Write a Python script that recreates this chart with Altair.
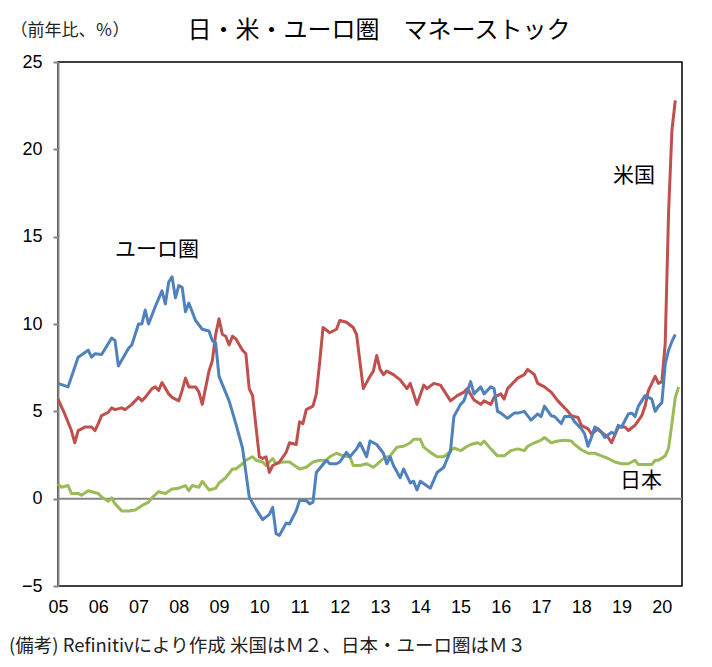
import altair as alt
import pandas as pd

# ---- data (year-on-year %) ----
euro_dates = ["2005-01","2005-04","2005-07","2005-10","2005-11","2005-12","2006-02","2006-05","2006-06","2006-07",
              "2006-10","2006-11","2007-01","2007-02","2007-03","2007-04","2007-06","2007-08","2007-09","2007-10",
              "2007-11","2007-12","2008-01","2008-02","2008-03","2008-04","2008-06","2008-08","2008-10","2008-11",
              "2008-12","2009-01","2009-04","2009-06","2009-08","2009-10","2009-12","2010-02","2010-04","2010-05",
              "2010-06","2010-07","2010-09","2010-10","2010-12","2011-01","2011-03","2011-04","2011-05","2011-06",
              "2011-09","2011-10","2011-12","2012-01","2012-03","2012-04","2012-06","2012-07","2012-09","2012-10",
              "2012-12","2013-02","2013-03","2013-04","2013-05","2013-07","2013-08","2013-10","2013-11","2013-12",
              "2014-01","2014-04","2014-06","2014-08","2014-10","2014-11","2015-01","2015-02","2015-04","2015-05",
              "2015-07","2015-08","2015-10","2015-11","2015-12","2016-01","2016-03","2016-05","2016-06","2016-08",
              "2016-10","2016-12","2017-01","2017-02","2017-04","2017-05","2017-07","2017-08","2017-10","2017-11",
              "2018-01","2018-02","2018-03","2018-04","2018-05","2018-07","2018-08","2018-10","2018-11","2018-12",
              "2019-01","2019-03","2019-04","2019-05","2019-06","2019-08","2019-09","2019-10","2019-11","2019-12",
              "2020-01","2020-02","2020-03","2020-04","2020-05"]
euro_values = [6.6, 6.4, 8.1, 8.5, 8.1, 8.3, 8.25, 9.2, 9.05, 7.6,
               8.6, 8.8, 10.0, 10.0, 10.8, 10.0, 11.0, 11.9, 11.15, 12.4,
               12.7, 11.5, 12.2, 12.1, 10.7, 11.2, 10.2, 9.7, 9.6, 9.05,
               8.9, 7.0, 5.6, 4.3, 2.9, 0.1, -0.6, -1.2, -0.9, -0.5,
               -2.0, -2.1, -1.4, -1.45, -0.7, -0.1, -0.1, -0.3, -0.2, 1.5,
               2.2, 2.0, 2.0, 2.1, 2.65, 2.4, 2.85, 3.2, 2.4, 3.3,
               3.1, 2.6, 2.0, 2.4, 1.9, 1.2, 1.7, 0.9, 1.0, 0.5,
               1.0, 0.6, 1.5, 1.8, 2.75, 4.7, 5.4, 5.6, 6.7, 6.0,
               6.4, 6.0, 6.4, 6.3, 5.0, 4.9, 4.6, 4.9, 4.9, 5.0,
               4.5, 4.85, 4.7, 5.3, 4.75, 4.7, 4.3, 4.7, 4.7, 4.4,
               4.0, 3.7, 3.0, 3.5, 4.1, 3.8, 3.5, 3.8, 3.7, 4.2,
               4.1, 4.85, 4.9, 4.7, 5.3, 5.9, 5.8, 5.7, 5.0, 5.3,
               5.5, 7.7, 8.5, 9.0, 9.4]

us_dates = ["2005-01","2005-03","2005-05","2005-06","2005-07","2005-09","2005-11","2005-12","2006-01","2006-02",
            "2006-04","2006-05","2006-06","2006-08","2006-09","2006-11","2007-01","2007-02","2007-03","2007-05",
            "2007-06","2007-07","2007-08","2007-10","2007-11","2008-01","2008-02","2008-03","2008-04","2008-06",
            "2008-07","2008-08","2008-10","2008-11","2008-12","2009-01","2009-02","2009-03","2009-04","2009-05",
            "2009-06","2009-08","2009-09","2009-10","2009-11","2010-01","2010-02","2010-03","2010-04","2010-05",
            "2010-06","2010-07","2010-09","2010-10","2010-12","2011-01","2011-02","2011-03","2011-05","2011-06",
            "2011-07","2011-08","2011-10","2011-12","2012-01","2012-03","2012-05","2012-06","2012-08","2012-10",
            "2012-11","2012-12","2013-01","2013-02","2013-03","2013-05","2013-07","2013-09","2013-10","2013-12",
            "2014-02","2014-03","2014-05","2014-07","2014-08","2014-10","2014-12","2015-02","2015-03","2015-05",
            "2015-07","2015-08","2015-10","2015-11","2016-01","2016-02","2016-03","2016-05","2016-06","2016-08",
            "2016-09","2016-11","2016-12","2017-01","2017-02","2017-04","2017-06","2017-07","2017-09","2017-10",
            "2017-12","2018-01","2018-03","2018-04","2018-06","2018-07","2018-09","2018-10","2018-12","2019-02",
            "2019-03","2019-05","2019-07","2019-08","2019-09","2019-11","2019-12","2020-01","2020-02","2020-03",
            "2020-04","2020-05"]
us_values = [5.7, 4.85, 3.9, 3.2, 3.9, 4.1, 4.1, 3.9, 4.3, 4.75,
             4.95, 5.2, 5.1, 5.2, 5.1, 5.4, 5.8, 5.6, 5.8, 6.3,
             6.4, 6.2, 6.65, 6.0, 5.8, 5.6, 6.2, 6.9, 6.4, 6.4,
             6.1, 5.4, 7.3, 7.9, 9.4, 10.3, 9.4, 9.3, 8.8, 9.3,
             9.15, 8.5, 8.3, 6.3, 5.9, 2.4, 2.3, 2.4, 1.5, 1.9,
             2.0, 2.1, 2.65, 3.2, 3.1, 4.4, 4.3, 5.1, 5.3, 6.0,
             7.8, 9.8, 9.5, 9.7, 10.2, 10.1, 9.8, 9.4, 6.3, 7.0,
             7.3, 8.2, 7.4, 7.1, 7.3, 7.1, 6.8, 6.3, 6.6, 5.4,
             6.5, 6.3, 6.6, 6.5, 6.2, 5.6, 5.9, 6.1, 6.3, 5.65,
             5.4, 5.6, 5.4, 5.8, 6.0, 5.7, 6.3, 6.7, 6.9, 7.1,
             7.4, 7.1, 6.6, 6.5, 6.4, 6.1, 5.6, 5.4, 5.0, 4.75,
             4.65, 4.2, 4.0, 3.7, 4.0, 3.8, 3.5, 3.2, 4.1, 4.1,
             3.9, 4.2, 4.75, 5.3, 6.2, 7.0, 6.6, 6.7, 8.9, 16.4,
             21.1, 22.8]

japan_dates = ["2005-01","2005-02","2005-04","2005-05","2005-07","2005-08","2005-10","2005-11","2006-01","2006-02",
               "2006-04","2006-05","2006-06","2006-08","2006-10","2006-12","2007-02","2007-04","2007-05","2007-07",
               "2007-09","2007-11","2008-01","2008-03","2008-04","2008-05","2008-07","2008-08","2008-10","2008-12",
               "2009-01","2009-03","2009-05","2009-06","2009-08","2009-09","2009-11","2009-12","2010-02","2010-03",
               "2010-05","2010-06","2010-08","2010-10","2011-01","2011-03","2011-05","2011-07","2011-09","2011-10",
               "2011-12","2012-02","2012-04","2012-05","2012-07","2012-09","2012-11","2012-12","2013-02","2013-04",
               "2013-06","2013-08","2013-10","2013-11","2014-01","2014-02","2014-04","2014-06","2014-08","2014-09",
               "2014-11","2015-01","2015-03","2015-04","2015-06","2015-07","2015-08","2015-10","2015-12","2016-02",
               "2016-04","2016-06","2016-08","2016-09","2016-11","2017-01","2017-02","2017-04","2017-06","2017-08",
               "2017-10","2017-11","2018-01","2018-03","2018-05","2018-07","2018-09","2018-11","2019-01","2019-03",
               "2019-05","2019-06","2019-08","2019-10","2019-11","2019-12","2020-02","2020-03","2020-04","2020-05",
               "2020-06"]
japan_values = [0.85, 0.65, 0.75, 0.3, 0.3, 0.2, 0.45, 0.4, 0.3, 0.1,
                -0.15, 0.05, -0.3, -0.7, -0.7, -0.65, -0.4, -0.2, 0.05, 0.4,
                0.3, 0.55, 0.6, 0.75, 0.45, 0.75, 0.65, 1.0, 0.5, 0.6,
                0.9, 1.2, 1.7, 1.7, 2.0, 2.2, 2.4, 2.2, 2.1, 1.9,
                2.3, 2.0, 2.1, 2.1, 1.7, 1.8, 2.1, 2.2, 2.2, 2.4,
                2.6, 2.45, 2.4, 1.9, 1.9, 2.0, 1.8, 1.95, 2.3, 2.45,
                2.95, 3.0, 3.2, 3.4, 3.4, 2.95, 2.65, 2.4, 2.4, 2.55,
                2.9, 2.75, 3.0, 3.1, 3.2, 3.1, 3.3, 2.85, 2.45, 2.45,
                2.75, 2.85, 2.75, 3.0, 3.2, 3.35, 3.5, 3.2, 3.3, 3.35,
                3.3, 3.1, 2.8, 2.6, 2.6, 2.45, 2.3, 2.1, 2.0, 2.0,
                2.2, 1.95, 1.95, 1.95, 2.2, 2.2, 2.45, 2.9, 4.3, 5.8,
                6.4]

series_names = ["日本", "米国", "ユーロ圏"]
series_colors = ["#9BBB59", "#C0504D", "#4F81BD"]

label_texts = ["ユーロ圏", "米国", "日本"]
label_years = [2007.46, 2019.31, 2019.48]
label_values = [14.26, 18.5, 1.03]

year_ticks = list(range(2005, 2021))
y_ticks = [-5, 0, 5, 10, 15, 20, 25]

title_text = "日・米・ユーロ圏　マネーストック"
unit_text = "（前年比、％）"
note_text = "(備考) Refinitivにより作成 米国はＭ２、日本・ユーロ圏はＭ３"

JP = "Noto Sans CJK JP"


def frame(dates, values):
    d = pd.to_datetime(pd.Series(dates), format="%Y-%m")
    return pd.DataFrame({"t": d.dt.year + (d.dt.month - 1) / 12.0, "v": values})


frames = [frame(japan_dates, japan_values), frame(us_dates, us_values), frame(euro_dates, euro_values)]

x_scale = alt.Scale(domain=[2005, 2020.5], nice=False, zero=False)
y_scale = alt.Scale(domain=[-5, 25], nice=False)

x_axis = alt.Axis(values=year_ticks, labelExpr="format(datum.value - 2000, '02d')", title=None,
                  grid=False, domain=False, ticks=False, labelPadding=12, labelFontSize=18,
                  labelFont="Liberation Sans", labelColor="#000", labelFlush=False)
y_axis = alt.Axis(values=y_ticks, title=None, grid=False, domainColor="#868686", domainWidth=2,
                  tickColor="#868686", tickWidth=2, tickSize=5, labelPadding=11, labelFontSize=18,
                  labelFont="Liberation Sans", labelColor="#000")

zero = alt.Chart(pd.DataFrame({"z": [0]})).mark_rule(color="#868686", strokeWidth=2).encode(
    y=alt.Y("z:Q", scale=y_scale, axis=y_axis))

layers = [zero]
for df, name, col in zip(frames, series_names, series_colors):
    layers.append(
        alt.Chart(df).mark_line(color=col, strokeWidth=3, strokeJoin="round").encode(
            x=alt.X("t:Q", scale=x_scale, axis=x_axis),
            y=alt.Y("v:Q", scale=y_scale, axis=y_axis),
        )
    )

lab_df = pd.DataFrame({"t": label_years, "v": label_values, "s": label_texts})
labels = alt.Chart(lab_df).mark_text(font=JP, fontSize=21, color="#000", baseline="middle").encode(
    x=alt.X("t:Q", scale=x_scale), y=alt.Y("v:Q", scale=y_scale), text="s:N")
layers.append(labels)

title = alt.Chart(pd.DataFrame({"s": [title_text]})).mark_text(
    font=JP, fontSize=24, color="#000", baseline="middle", align="center").encode(
    x=alt.value(321), y=alt.value(-31), text="s:N")
unit = alt.Chart(pd.DataFrame({"s": [unit_text]})).mark_text(
    font=JP, fontSize=17, color="#222", baseline="middle", align="center").encode(
    x=alt.value(12), y=alt.value(-31), text="s:N")
note = alt.Chart(pd.DataFrame({"s": [note_text]})).mark_text(
    font=JP, fontSize=18.5, color="#222", baseline="middle", align="left").encode(
    x=alt.value(-49), y=alt.value(584), text="s:N")
layers += [title, unit, note]

chart = alt.layer(*layers).properties(
    width=624, height=524,
    padding={"left": 50, "top": 54, "right": 20, "bottom": 73},
    autosize=alt.AutoSizeParams(type="none"),
    background="white",
).configure_view(stroke="#000", strokeWidth=1.5)

chart.save("out.html", embed_options={"renderer": "svg", "actions": False})
